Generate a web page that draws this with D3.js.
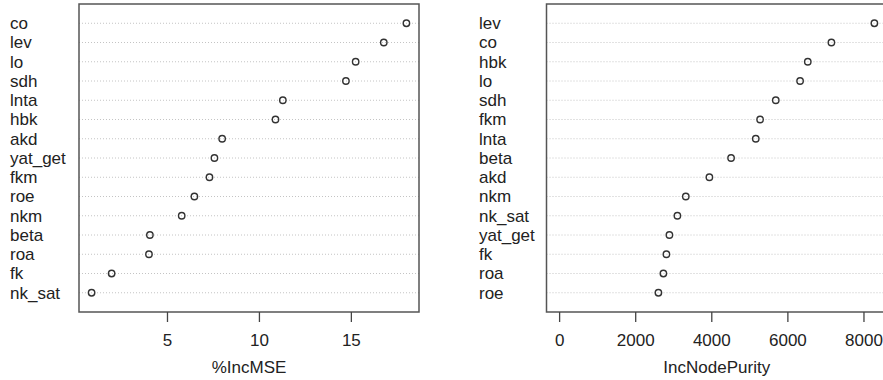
<!DOCTYPE html>
<html>
<head>
<meta charset="utf-8">
<script src="https://cdn.jsdelivr.net/npm/d3@7"></script>
<style>
  html, body { margin: 0; padding: 0; background: #fff; }
  svg { display: block; }
  text { font-family: "Liberation Sans", Arial, sans-serif; fill: #222; }
</style>
</head>
<body>
<svg id="chart" width="883" height="380"></svg>
<script>
// Panel 1: %IncMSE (top to bottom)
const mseLabels = ["co","lev","lo","sdh","lnta","hbk","akd","yat_get","fkm","roe","nkm","beta","roa","fk","nk_sat"];
const mseValues = [18.02,16.79,15.26,14.73,11.3,10.9,8.0,7.58,7.31,6.49,5.80,4.07,4.02,1.99,0.90];
const mseTicks = [5,10,15];

// Panel 2: IncNodePurity (top to bottom)
const purLabels = ["lev","co","hbk","lo","sdh","fkm","lnta","beta","akd","nkm","nk_sat","yat_get","fk","roa","roe"];
const purValues = [8287,7157,6536,6334,5695,5283,5169,4520,3950,3330,3109,2899,2820,2741,2610];
const purTicks = [0,2000,4000,6000,8000];

const svg = d3.select("#chart");
const FS = 17;

function panel(opts) {
  const { labels, values, ticks, title, x0, x1, labelX, xmin } = opts;
  const top = 4, bottom = 312;
  const n = labels.length;
  const lo = xmin !== undefined ? xmin : d3.min(values);
  const hi = d3.max(values);
  const ext = (hi - lo) * 0.04;
  const x = d3.scaleLinear().domain([lo - ext, hi + ext]).range([x0, x1]);
  const y = d3.scaleLinear().domain([0, n + 1]).range([bottom, top]);
  const g = svg.append("g");
  const rows = labels.map((l, i) => ({ label: l, value: values[i], pos: n - i }));

  // grid lines
  g.selectAll("line.grid").data(rows).enter().append("line")
    .attr("x1", x0).attr("x2", x1)
    .attr("y1", d => y(d.pos)).attr("y2", d => y(d.pos))
    .attr("stroke", "#c4c4c4").attr("stroke-width", 1)
    .attr("stroke-dasharray", "1 2");

  // points
  g.selectAll("circle").data(rows).enter().append("circle")
    .attr("cx", d => x(d.value)).attr("cy", d => y(d.pos))
    .attr("r", 3.2).attr("fill", "none")
    .attr("stroke", "#333").attr("stroke-width", 1.4);

  // labels
  g.selectAll("text.lab").data(rows).enter().append("text")
    .attr("x", labelX).attr("y", d => y(d.pos))
    .attr("dy", "0.35em")
    .attr("font-size", FS)
    .text(d => d.label);

  // box
  g.append("rect")
    .attr("x", x0).attr("y", top)
    .attr("width", x1 - x0).attr("height", bottom - top)
    .attr("fill", "none").attr("stroke", "#555").attr("stroke-width", 1.5);

  // axis
  const ax = g.append("g").attr("transform", `translate(0,${bottom})`)
    .call(d3.axisBottom(x).tickValues(ticks).tickFormat(d3.format("d"))
      .tickSize(10).tickPadding(12));
  ax.select(".domain").remove();
  ax.selectAll(".tick line").attr("stroke", "#444").attr("stroke-width", 1.3);
  ax.selectAll(".tick text").attr("font-size", FS)
    .attr("font-family", "Liberation Sans, Arial, sans-serif").attr("fill", "#222");

  g.append("text")
    .attr("x", (x0 + x1) / 2).attr("y", 373)
    .attr("text-anchor", "middle").attr("font-size", FS)
    .text(title);
}

panel({ labels: mseLabels, values: mseValues, ticks: mseTicks, title: "%IncMSE",
  x0: 79, x1: 419, labelX: 10 });
panel({ labels: purLabels, values: purValues, ticks: purTicks, title: "IncNodePurity",
  x0: 546.5, x1: 887, labelX: 479, xmin: 0 });
</script>
</body>
</html>
